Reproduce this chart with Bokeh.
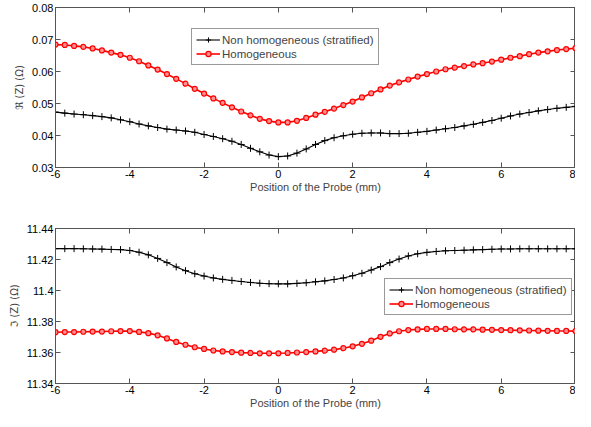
from bokeh.plotting import figure
from bokeh.models import (Range1d, LinearAxis, FixedTicker, Legend, LegendItem)
from bokeh.layouts import column
from bokeh.embed import file_html
from bokeh.resources import INLINE

# ---------------- data ----------------
position = [-6.0, -5.75, -5.5, -5.25, -5.0, -4.75, -4.5, -4.25, -4.0, -3.75,
            -3.5, -3.25, -3.0, -2.75, -2.5, -2.25, -2.0, -1.75, -1.5, -1.25,
            -1.0, -0.75, -0.5, -0.25, 0.0, 0.25, 0.5, 0.75, 1.0, 1.25,
            1.5, 1.75, 2.0, 2.25, 2.5, 2.75, 3.0, 3.25, 3.5, 3.75,
            4.0, 4.25, 4.5, 4.75, 5.0, 5.25, 5.5, 5.75, 6.0, 6.25,
            6.5, 6.75, 7.0, 7.25, 7.5, 7.75, 8.0]

real_non_homog = [0.0473, 0.0470, 0.0467, 0.0465, 0.0462, 0.0459, 0.0455, 0.0449, 0.0443, 0.0436,
                  0.0430, 0.0425, 0.0420, 0.0417, 0.0414, 0.0410, 0.0403, 0.0397, 0.0390, 0.0382,
                  0.0372, 0.0360, 0.0349, 0.0339, 0.0334, 0.0336, 0.0345, 0.0358, 0.0372, 0.0384,
                  0.0393, 0.0399, 0.0404, 0.0407, 0.0408, 0.0408, 0.0406, 0.0406, 0.0407, 0.0410,
                  0.0413, 0.0417, 0.0421, 0.0425, 0.0430, 0.0435, 0.0441, 0.0447, 0.0454, 0.0461,
                  0.0467, 0.0472, 0.0477, 0.0481, 0.0485, 0.0488, 0.0491]

real_homog = [0.0684, 0.0683, 0.0680, 0.0677, 0.0672, 0.0666, 0.0659, 0.0652, 0.0643, 0.0632,
              0.0619, 0.0606, 0.0592, 0.0577, 0.0562, 0.0546, 0.0531, 0.0516, 0.0502, 0.0488,
              0.0475, 0.0463, 0.0452, 0.0445, 0.0441, 0.0441, 0.0446, 0.0455, 0.0465, 0.0474,
              0.0484, 0.0495, 0.0506, 0.0519, 0.0532, 0.0544, 0.0556, 0.0566, 0.0575, 0.0584,
              0.0592, 0.0600, 0.0607, 0.0612, 0.0617, 0.0622, 0.0626, 0.0631, 0.0637, 0.0643,
              0.0648, 0.0654, 0.0659, 0.0663, 0.0667, 0.0670, 0.0673]

imag_non_homog = [11.4270, 11.4270, 11.4270, 11.4269, 11.4268, 11.4267, 11.4265, 11.4264, 11.4258, 11.4247,
                  11.4230, 11.4207, 11.4180, 11.4152, 11.4128, 11.4108, 11.4093, 11.4081, 11.4072, 11.4065,
                  11.4058, 11.4052, 11.4047, 11.4044, 11.4043, 11.4043, 11.4046, 11.4050, 11.4056, 11.4062,
                  11.4071, 11.4081, 11.4095, 11.4111, 11.4132, 11.4154, 11.4180, 11.4203, 11.4223, 11.4237,
                  11.4246, 11.4252, 11.4256, 11.4258, 11.4260, 11.4262, 11.4264, 11.4266, 11.4268, 11.4268,
                  11.4269, 11.4269, 11.4269, 11.4269, 11.4269, 11.4269, 11.4269]

imag_homog = [11.3731, 11.3732, 11.3732, 11.3734, 11.3735, 11.3735, 11.3737, 11.3738, 11.3738, 11.3733,
              11.3725, 11.3711, 11.3691, 11.3668, 11.3650, 11.3634, 11.3623, 11.3613, 11.3607, 11.3603,
              11.3599, 11.3597, 11.3595, 11.3595, 11.3595, 11.3597, 11.3600, 11.3603, 11.3607, 11.3612,
              11.3618, 11.3628, 11.3640, 11.3656, 11.3676, 11.3701, 11.3723, 11.3737, 11.3745, 11.3749,
              11.3752, 11.3752, 11.3752, 11.3750, 11.3749, 11.3749, 11.3747, 11.3746, 11.3745, 11.3744,
              11.3743, 11.3742, 11.3741, 11.3740, 11.3739, 11.3739, 11.3738]

x_ticks = [-6, -4, -2, 0, 2, 4, 6, 8]
x_labels = ["-6", "-4", "-2", "0", "2", "4", "6", "8"]
y1_ticks = [0.03, 0.04, 0.05, 0.06, 0.07, 0.08]
y1_labels = ["0.03", "0.04", "0.05", "0.06", "0.07", "0.08"]
y2_ticks = [11.34, 11.36, 11.38, 11.40, 11.42, 11.44]
y2_labels = ["11.34", "11.36", "11.38", "11.4", "11.42", "11.44"]

label_non = "Non homogeneous (stratified)"
label_hom = "Homogeneous"
x_label = "Position of the Probe (mm)"

FONT = "Liberation Sans"
AX = "#555555"
RED = "#ff0000"


def style_axis(ax, ticker, labels=None, show_labels=True):
    ax.ticker = FixedTicker(ticks=ticker)
    ax.axis_line_color = AX
    ax.major_tick_line_color = AX
    ax.major_tick_in = 5
    ax.major_tick_out = 0
    ax.minor_tick_line_color = None
    ax.major_label_text_font = FONT
    ax.major_label_text_color = "black"
    ax.axis_label_text_font = FONT
    ax.axis_label_text_font_style = "normal"
    ax.axis_label_text_font_size = "11px"
    if show_labels:
        ax.major_label_text_font_size = "11px"
        ax.major_label_standoff = 2
        if labels is not None:
            ax.major_label_overrides = {t: l for t, l in zip(ticker, labels)}
    else:
        ax.major_label_text_font_size = "1px"
        ax.major_label_standoff = 0
        ax.major_label_overrides = {t: "" for t in ticker}


def make_panel(yt, ylabels, yr, ydata_non, ydata_hom, ylab, height, top, bottom, leg_loc):
    p = figure(width=575, height=height, output_backend="svg", toolbar_location=None,
               x_range=Range1d(-6, 8), y_range=Range1d(*yr),
               min_border_left=55, min_border_right=0,
               min_border_top=top, min_border_bottom=bottom)
    p.xgrid.visible = False
    p.ygrid.visible = False
    p.outline_line_color = AX
    p.background_fill_color = "white"
    p.border_fill_color = "white"

    style_axis(p.xaxis[0], x_ticks, x_labels)
    p.xaxis[0].axis_label = x_label
    p.xaxis[0].axis_label_standoff = 0
    style_axis(p.yaxis[0], yt, ylabels)
    p.yaxis[0].axis_label = ylab
    p.yaxis[0].axis_label_standoff = 4
    p.yaxis[0].axis_label_text_font_size = "10px"
    p.yaxis[0].axis_label_text_font = "DejaVu Sans"

    top_ax = LinearAxis()
    style_axis(top_ax, x_ticks, show_labels=False)
    p.add_layout(top_ax, "above")
    right_ax = LinearAxis()
    style_axis(right_ax, yt, show_labels=False)
    p.add_layout(right_ax, "right")

    l1 = p.line(position, ydata_non, line_color="black", line_width=1.1)
    s1 = p.scatter(position, ydata_non, marker="cross", size=7, line_color="black", line_width=1)
    l2 = p.line(position, ydata_hom, line_color=RED, line_width=1.6)
    s2 = p.scatter(position, ydata_hom, marker="circle", size=5, line_color=RED,
                   fill_color="#ff9090", line_width=1.2)

    legend = Legend(items=[LegendItem(label=label_non, renderers=[l1, s1]),
                           LegendItem(label=label_hom, renderers=[l2, s2])],
                    location=leg_loc)
    legend.label_text_font = FONT
    legend.label_text_font_size = "11.5px"
    legend.label_height = 13
    legend.glyph_height = 13
    legend.glyph_width = 24
    legend.label_standoff = 2
    legend.padding = 4
    legend.spacing = 1
    legend.margin = 0
    legend.border_line_color = "#333333"
    legend.border_line_width = 1
    legend.background_fill_color = "white"
    legend.background_fill_alpha = 1
    p.add_layout(legend, "center")
    return p


p1 = make_panel(y1_ticks, y1_labels, (0.03, 0.08), real_non_homog, real_homog,
                "\u211c (Z) (\u03a9)", 197, 7, 30, (136, 102))
p2 = make_panel(y2_ticks, y2_labels, (11.34, 11.44), imag_non_homog, imag_homog,
                "\u2111 (Z) (\u03a9)", 214, 31, 26, (329, 68))

layout = column(p1, p2, spacing=0)
open("out.html", "w").write(file_html(layout, INLINE))
